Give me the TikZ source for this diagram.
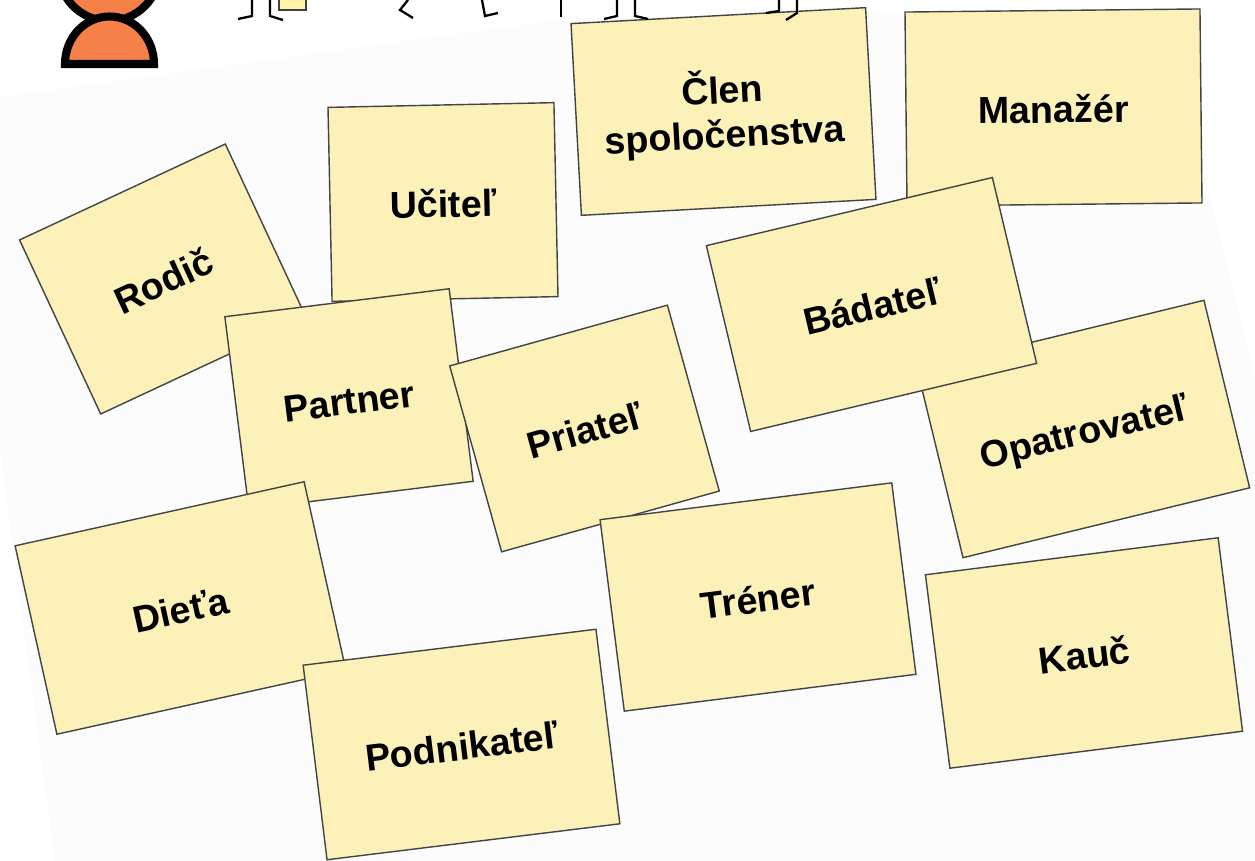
\documentclass[tikz,border=0pt]{standalone}
\usepackage{fontspec}
\setmainfont{Liberation Sans}
\definecolor{cardfill}{HTML}{FCF1B8}
\definecolor{cardline}{HTML}{444444}
\definecolor{slidegray}{HTML}{FCFCFC}
\definecolor{bodyorange}{HTML}{F58149}
\definecolor{noteyellow}{HTML}{FFF5A8}
\tikzset{
	card/.style={draw=cardline, fill=cardfill, line width=0.8pt, align=center, text=black,
		font=\fontsize{21.4}{25.2}\selectfont\bfseries},
	onelinecard/.style={card, text height=18pt, text depth=0.4pt},
	foot/.style={draw=black, line width=1.3pt}
}

\begin{document}
\begin{tikzpicture}[x=0.02cm, y=-0.02cm]

\def \px{0.02cm}

\useasboundingbox (0,0) rectangle (1255,861);
\clip (0,0) rectangle (1255,861);

\fill[white] (0,0) rectangle (1255,861); % page
\fill[slidegray] (0,97) -- (570,18) -- (1165,10) -- (1255,380) -- (1255,861) -- (55,861) -- (0,450) -- cycle; % slide behind the cards

% person, cut off at the top
\draw[black, line width=4.6pt, fill=bodyorange] (109,-29.6) circle (50.6 and 50.6);
\draw[black, line width=4.6pt, fill=bodyorange] (65,64) arc (180:360:44.5 and 47.5) -- cycle;

% feet of the figures above the cards
\draw[foot] (238,19) -- (252,16) -- (252,0);
\draw[foot] (283,20) -- (270,16) -- (270,0);
\draw[draw=black!75, line width=1.3pt, fill=noteyellow] (279,0) -- (279,10) -- (306,10) -- (306,0);
\draw[foot] (413,18) -- (400,10) -- (408,0);
\draw[foot] (482,0) -- (485,16) -- (498,13);
\draw[foot] (561,0) -- (561,17);

\node[card, rotate=3.1, minimum width=295*\px, minimum height=192*\px] (clen) at (723.5,111.5) {\rule{0pt}{20.5pt}Člen\\spoločenstva};

\foreach \name/\xc/\yc/\cw/\ch/\ang/\txt in {
	rodic/163/279/227/192/25/Rodič,
	ucitel/443/202/226/194/1.2/Učiteľ,
	partner/349/399/226/194/7.1/Partner,
	priatel/584.5/428.5/226/193/15.6/Priateľ,
	manazer/1053.5/107.5/295/194/0.6/Manažér,
	opatrovatel/1083.5/429/295/193/13.7/Opatrovateľ,
	badatel/871.5/304.5/294/191/13.4/Bádateľ,
	dieta/180.5/608/296/193/12.5/Dieťa,
	podnikatel/461.5/744.5/295/196/7/Podnikateľ,
	trener/758/597/294/193/7.2/Tréner,
	kauc/1084/653/295/195/7.2/Kauč} {
	\node[onelinecard, rotate=\ang, minimum width=\cw*\px, minimum height=\ch*\px] (\name) at (\xc,\yc) {\txt};
}

\draw[foot] (604,19) -- (617,16) -- (617,0);
\draw[foot] (648,19) -- (635,16) -- (635,0);
\draw[foot] (766,13) -- (779,11) -- (779,0);
\draw[foot] (786,20) -- (797,13) -- (797,0);

\end{tikzpicture}
\end{document}
